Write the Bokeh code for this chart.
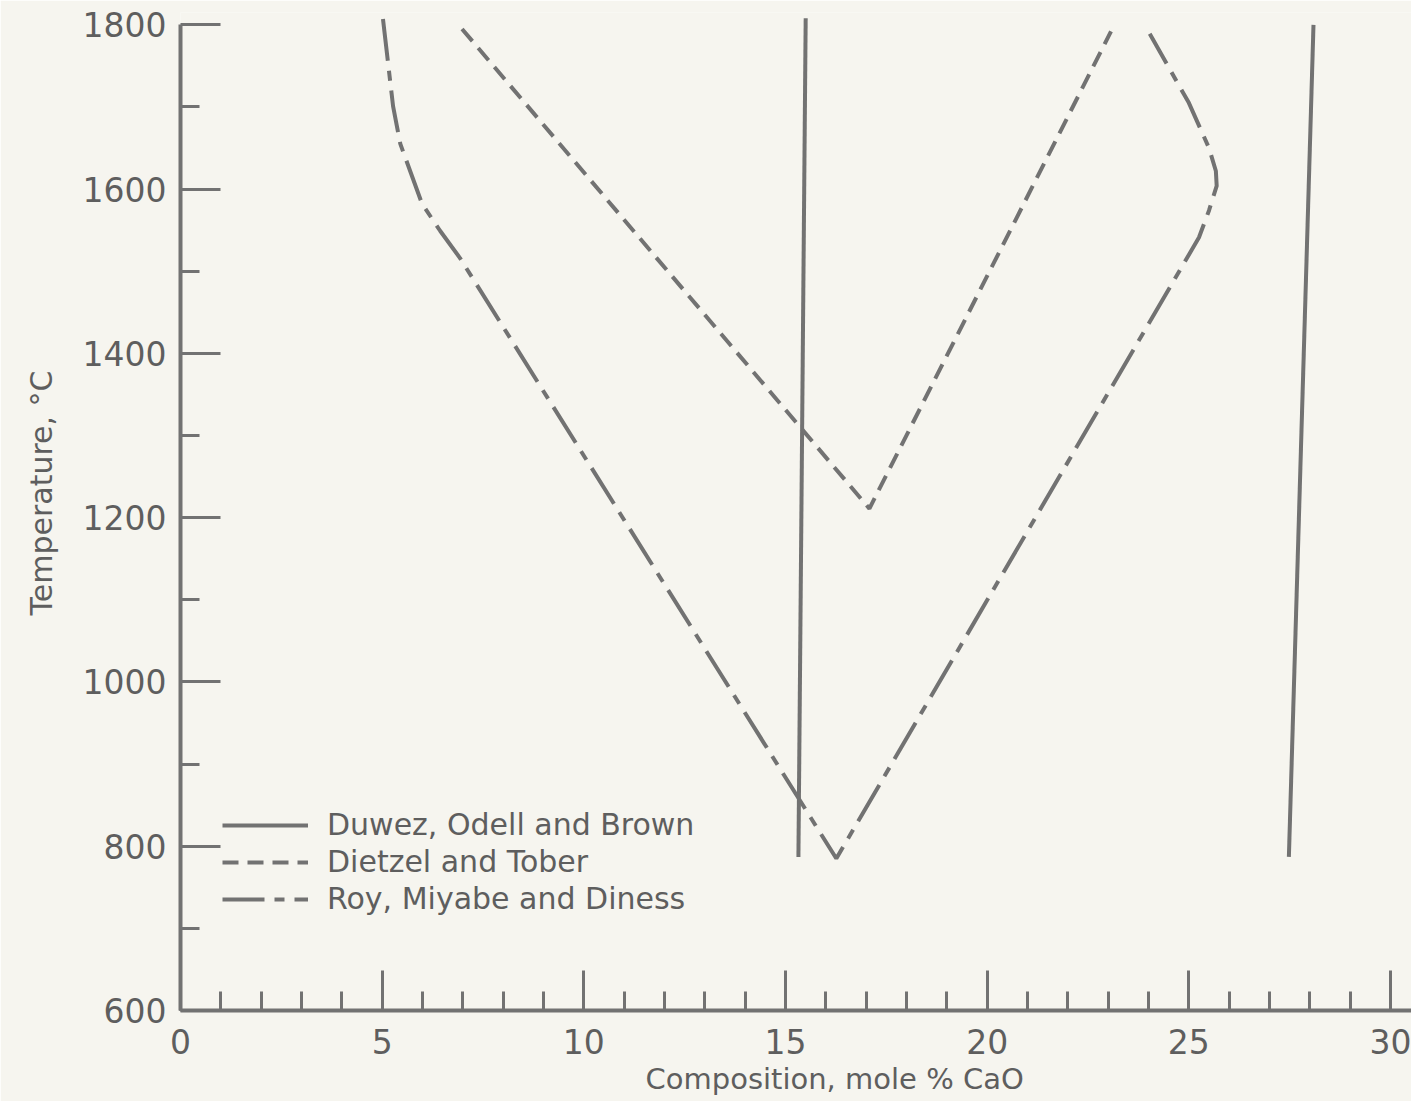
from bokeh.plotting import figure
from bokeh.models import FixedTicker, Legend, LegendItem, Title
from bokeh.embed import file_html
from bokeh.resources import INLINE

# ---- data ----
duwez_x = [[15.50, 15.32], [28.09, 27.48]]
duwez_y = [[1808, 787], [1800, 787]]

dietzel_x = [6.98, 17.08, 23.07]
dietzel_y = [1795, 1211, 1792]

roy_x = [5.02, 5.27, 5.45, 5.99, 6.44, 6.93, 16.26, 25.25, 25.50, 25.69, 25.67, 25.50, 25.00, 24.03]
roy_y = [1807, 1701, 1655, 1582, 1549, 1516, 785, 1541, 1574, 1604, 1622, 1650, 1705, 1789]

x_major = [0, 5, 10, 15, 20, 25, 30]
x_minor = list(range(0, 31))
y_major = [600, 800, 1000, 1200, 1400, 1600, 1800]
y_minor = [700, 900, 1100, 1300, 1500, 1700]

labels = ["Duwez, Odell and Brown", "Dietzel and Tober", "Roy, Miyabe and Diness"]
x_title = "Composition, mole % CaO"
y_title = "Temperature, °C"

FONT = "DejaVu Sans"
INK = "#727272"
TXT = "#5e5e5e"
BG = "#f6f5ef"

p = figure(width=1411, height=1101, x_range=(0, 30.52), y_range=(600, 1815),
           output_backend="svg", toolbar_location=None,
           min_border_left=180, min_border_right=0, min_border_top=12, min_border_bottom=91)
p.background_fill_color = BG
p.border_fill_color = BG
p.outline_line_color = None
p.xgrid.visible = False
p.ygrid.visible = False

# axes
for ax in (p.xaxis[0], p.yaxis[0]):
    ax.axis_line_color = INK
    ax.axis_line_width = 4
    ax.major_tick_line_color = INK
    ax.major_tick_line_width = 3
    ax.minor_tick_line_color = INK
    ax.minor_tick_line_width = 3
    ax.major_tick_out = 0
    ax.minor_tick_out = 0
    ax.major_tick_in = 40
    ax.minor_tick_in = 19
    ax.major_label_text_font = FONT
    ax.major_label_text_font_size = "33px"
    ax.major_label_text_color = TXT

p.xaxis[0].ticker = FixedTicker(ticks=x_major, minor_ticks=x_minor)
p.yaxis[0].ticker = FixedTicker(ticks=y_major, minor_ticks=y_minor)
p.yaxis[0].bounds = (600, 1800)
p.yaxis[0].major_label_standoff = 14
p.xaxis[0].major_label_standoff = 18
p.yaxis[0].major_label_orientation = "horizontal"

# curves
r1 = p.multi_line(duwez_x, duwez_y, line_color=INK, line_width=4)
r2 = p.line(dietzel_x, dietzel_y, line_color=INK, line_width=4, line_dash="16 9")
r3 = p.line(roy_x, roy_y, line_color=INK, line_width=4, line_dash="42 10 10 10")

legend = Legend(items=[LegendItem(label=labels[0], renderers=[r1]),
                       LegendItem(label=labels[1], renderers=[r2]),
                       LegendItem(label=labels[2], renderers=[r3])],
                location=(42, 94), padding=0, margin=0, spacing=2,
                glyph_width=86, glyph_height=30, label_height=30,
                label_standoff=19, label_text_font=FONT, label_text_font_size="30px",
                label_text_color=TXT, background_fill_alpha=0, border_line_alpha=0)
p.add_layout(legend, "center")

# axis titles
p.add_layout(Title(text=x_title, align="left", offset=465, standoff=6,
                   text_font=FONT, text_font_size="29px", text_color=TXT,
                   text_font_style="normal"), "below")
p.add_layout(Title(text=y_title, align="left", offset=395, standoff=41,
                   text_font=FONT, text_font_size="30px", text_color=TXT,
                   text_font_style="normal"), "left")

open("out.html", "w").write(file_html(p, INLINE))
